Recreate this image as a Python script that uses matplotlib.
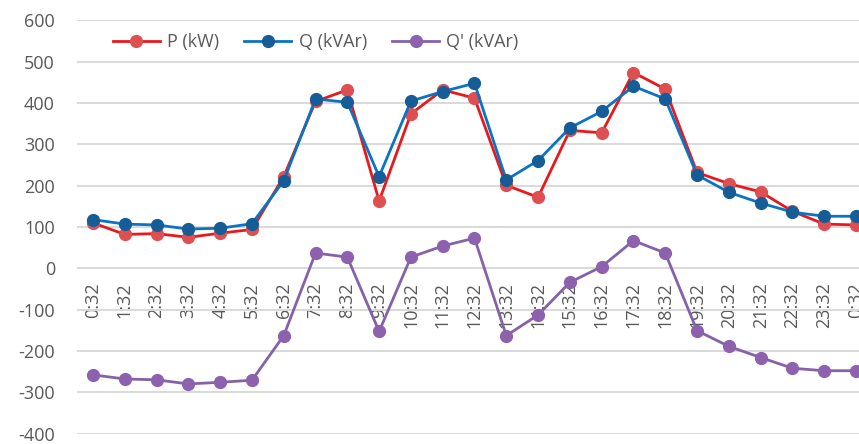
import matplotlib
matplotlib.use('Agg')
import matplotlib.pyplot as plt

plt.rcParams['font.family'] = ['Open Sans', 'DejaVu Sans']
plt.rcParams['axes.unicode_minus'] = False

times = ['0:32', '1:32', '2:32', '3:32', '4:32', '5:32', '6:32', '7:32', '8:32', '9:32',
         '10:32', '11:32', '12:32', '13:32', '14:32', '15:32', '16:32', '17:32', '18:32',
         '19:32', '20:32', '21:32', '22:32', '23:32', '0:32']
p_kw = [110, 82, 84, 75, 85, 94, 222, 404, 432, 163, 374, 432, 412, 201, 172, 334, 328, 474,
        434, 232, 205, 185, 138, 107, 105]
q_kvar = [118, 107, 105, 95, 97, 108, 212, 410, 402, 222, 405, 428, 448, 214, 261, 340, 380,
          441, 410, 226, 184, 158, 136, 126, 126]
q2_kvar = [-258, -268, -270, -280, -276, -271, -163, 37, 27, -153, 27, 54, 73, -163, -113,
           -34, 4, 67, 37, -151, -189, -216, -242, -248, -248]

fig = plt.figure(figsize=(8.59, 4.44), dpi=100)
ax = fig.add_axes([77.1 / 859, (444 - 433.5) / 444, (871.9 - 77.1) / 859, 413 / 444])

# x axis sits on y=0 (set before tick labels, it resets the ticks)
ax.spines['bottom'].set_position(('data', 0))
ax.spines['bottom'].set_visible(False)
for s in ['top', 'right', 'left']:
    ax.spines[s].set_visible(False)

x = list(range(len(times)))
ax.plot(x, p_kw, color='#e8191c', lw=2.0, marker='o', ms=8.5,
        markerfacecolor='#dd4f50', markeredgecolor='#dd4f50', label='P (kW)', zorder=3)
ax.plot(x, q_kvar, color='#0a74c4', lw=2.0, marker='o', ms=8.5,
        markerfacecolor='#165c97', markeredgecolor='#165c97', label='Q (kVAr)', zorder=4)
ax.plot(x, q2_kvar, color='#8462a8', lw=2.0, marker='o', ms=8.5,
        markerfacecolor='#8d61ad', markeredgecolor='#8d61ad', label="Q' (kVAr)", zorder=3)

ax.set_xlim(-0.5, len(times) - 0.5)
ax.set_ylim(-400, 600)
ax.set_yticks(range(-400, 601, 100))
ax.set_xticks(x)
ax.set_xticklabels(times, rotation=90)
ax.yaxis.grid(True, color='#d9d9d9', lw=1.4)
ax.set_axisbelow(True)
ax.tick_params(axis='x', length=0, pad=10, labelsize=13, labelcolor='#595959')
ax.tick_params(axis='y', length=0, pad=16, labelsize=13, labelcolor='#595959')

ax.legend(loc='center left', bbox_to_anchor=(0.045, 0.948), ncol=3, frameon=False,
          fontsize=13, handlelength=2.6, columnspacing=1.4, handletextpad=0.4,
          labelcolor='#595959', borderaxespad=0, borderpad=0)

fig.savefig('out.png', dpi=100)
